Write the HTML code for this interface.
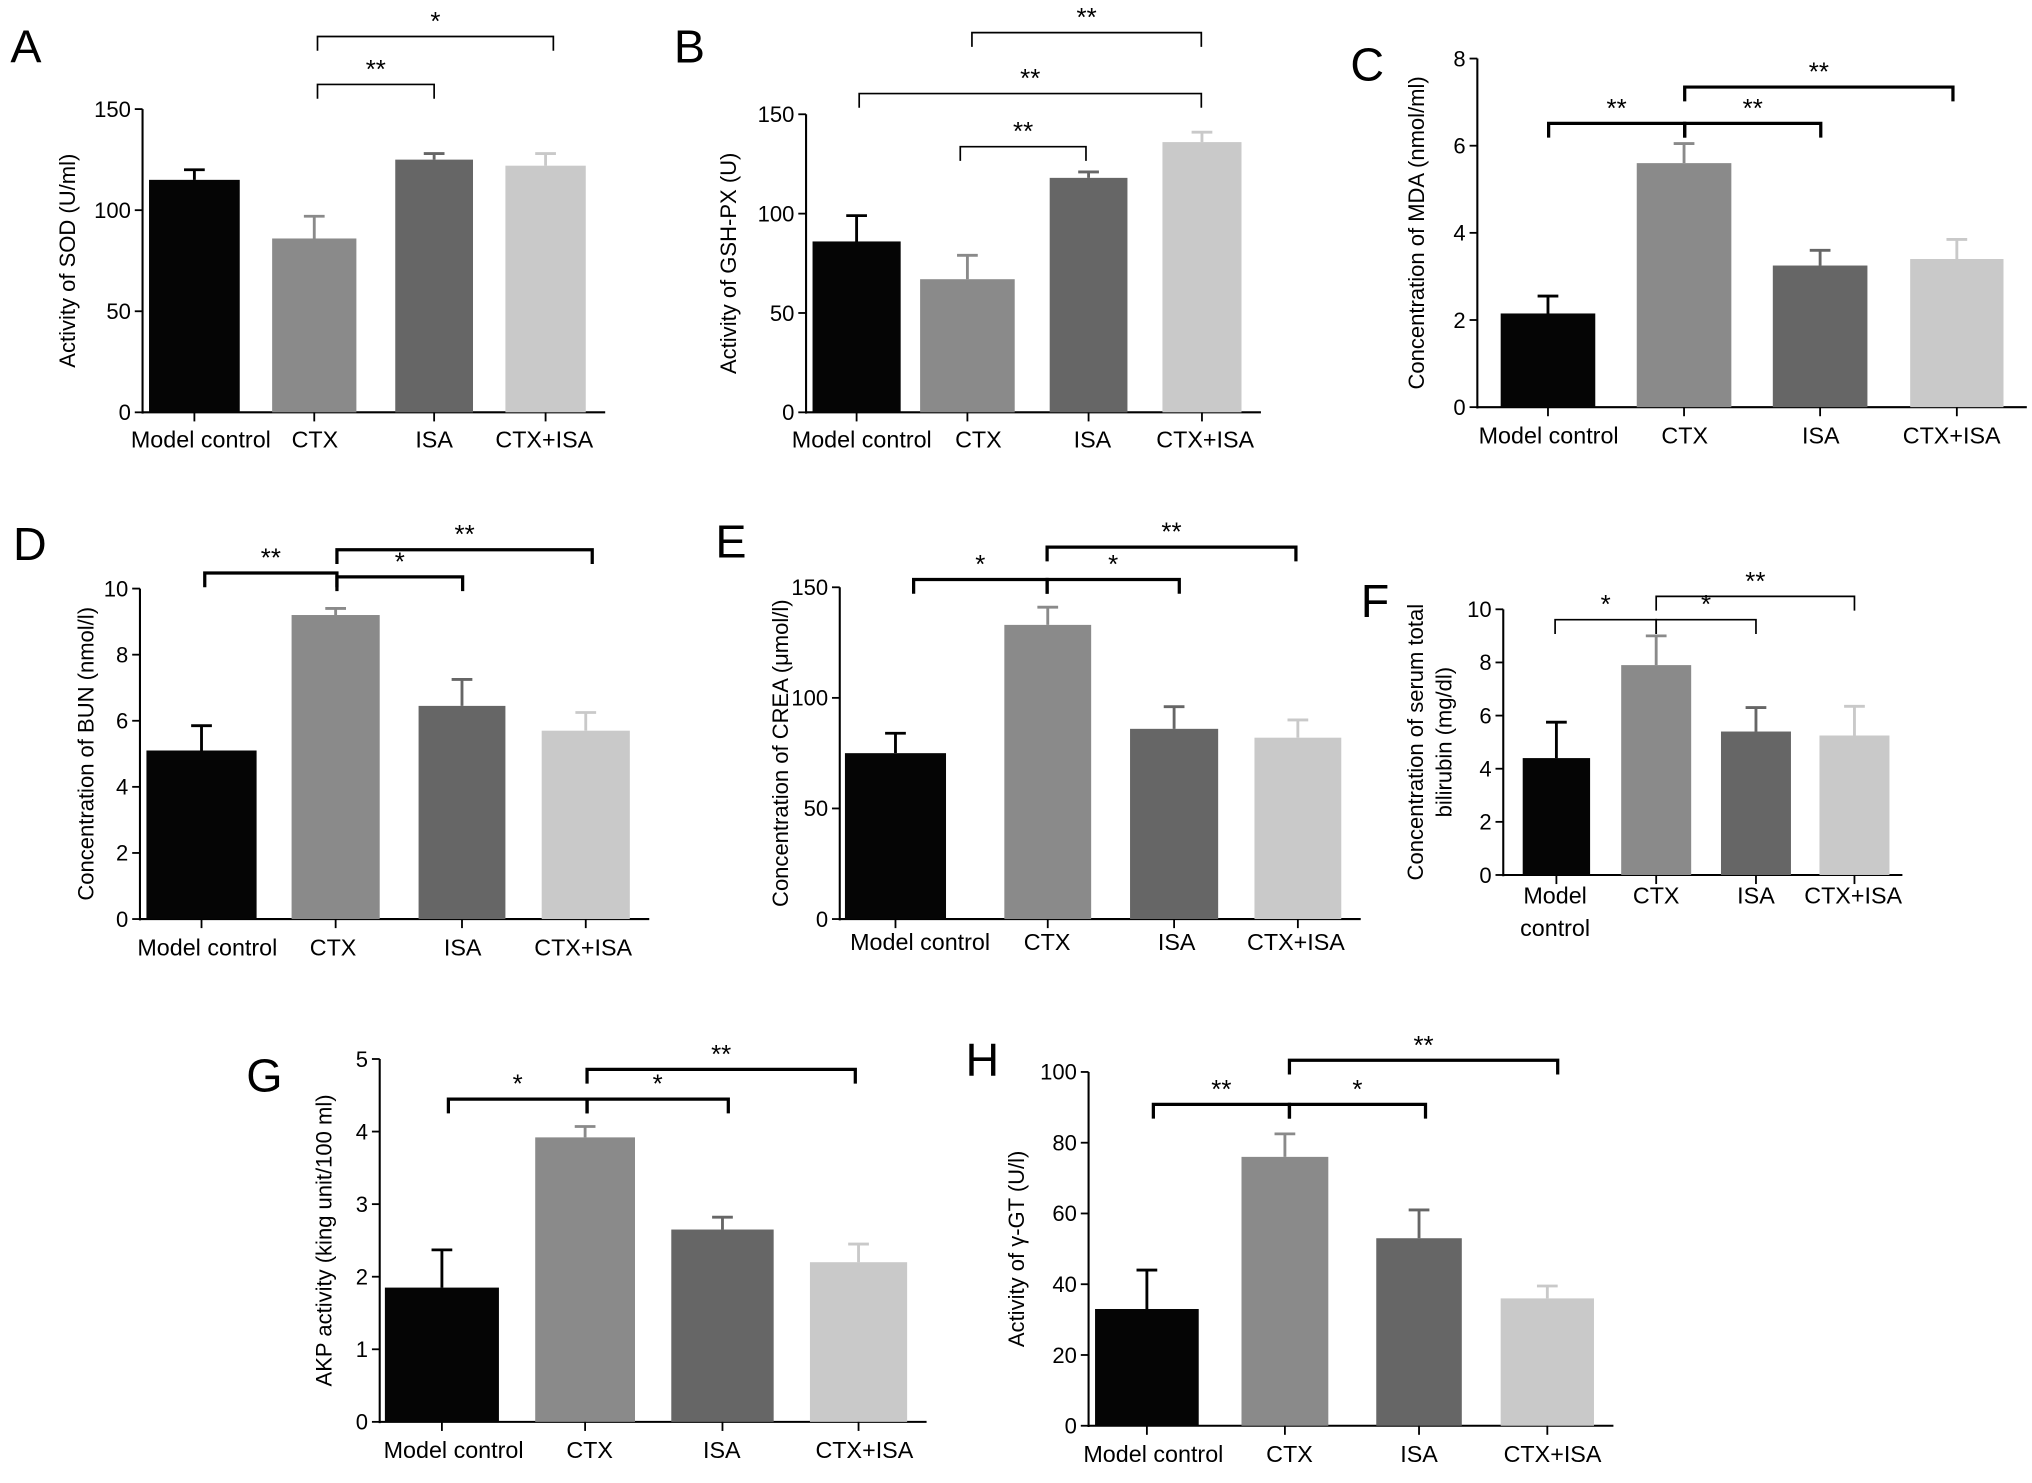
<!DOCTYPE html>
<html><head><meta charset="utf-8"><style>
html,body{margin:0;padding:0;background:#fff}
svg{display:block;font-family:"Liberation Sans",Arial,sans-serif}
</style></head><body>
<svg id="fig" width="2032" height="1483" viewBox="0 0 1568 1144" xmlns="http://www.w3.org/2000/svg"></svg>
<script>
const groups = ["Model control","CTX","ISA","CTX+ISA"];
const colors = ["#050505","#8a8a8a","#666666","#c9c9c9"];
const valsA=[115,86,125,122], errA=[5,11,3,6];
const valsB=[86,67,118,136], errB=[13,12,3,5];
const valsC=[2.15,5.6,3.25,3.4], errC=[0.4,0.45,0.35,0.45];
const valsD=[5.1,9.2,6.45,5.7], errD=[0.75,0.2,0.8,0.55];
const valsE=[75,133,86,82], errE=[9,8,10,8];
const valsF=[4.4,7.9,5.4,5.25], errF=[1.35,1.1,0.9,1.1];
const valsG=[1.85,3.92,2.65,2.2], errG=[0.52,0.15,0.17,0.25];
const valsH=[33,76,53,36], errH=[11,6.5,8,3.5];
const ticksA=[0,50,100,150], ticksC=[0,2,4,6,8], ticksD=[0,2,4,6,8,10], ticksG=[0,1,2,3,4,5], ticksH=[0,20,40,60,80,100];

const NS="http://www.w3.org/2000/svg", svg=document.getElementById('fig');
function el(tag,a,parent,txt){const e=document.createElementNS(NS,tag);for(const k in a)e.setAttribute(k,a[k]);if(txt!==undefined)e.textContent=txt;(parent||svg).appendChild(e);return e;}

const panels=[
 {id:'a',L:'A',lx:8,ly:48,ax:110,y0:318,y1:84,max:150,ticks:ticksA,vals:valsA,err:errA,bars:[[115,185],[210,275],[305,365],[390,452]],
  labs:[[155,345,'Model control'],[243,345,'CTX'],[335,345,'ISA'],[420,345,'CTX+ISA']],ylab:['Activity of SOD (U/ml)'],ylx:58,
  br:[[245,335,65,'**'],[245,427,28,'*']],bw:1.3},
 {id:'b',L:'B',lx:520,ly:48,ax:622,y0:318,y1:88,max:150,ticks:ticksA,vals:valsB,err:errB,bars:[[627,695],[710,783],[810,870],[897,958]],
  labs:[[665,345,'Model control'],[755,345,'CTX'],[843,345,'ISA'],[930,345,'CTX+ISA']],ylab:['Activity of GSH-PX (U)'],ylx:568,
  br:[[741,838,113,'**'],[663,927,72,'**'],[750,927,25,'**']],bw:1.3},
 {id:'c',L:'C',lx:1042,ly:62,ax:1140,y0:314,y1:45,max:8,ticks:ticksC,vals:valsC,err:errC,bars:[[1158,1231],[1263,1336],[1368,1441],[1474,1546]],
  labs:[[1195,342,'Model control'],[1300,342,'CTX'],[1405,342,'ISA'],[1506,342,'CTX+ISA']],ylab:['Concentration of MDA (nmol/ml)'],ylx:1099,
  br:[[1195,1300,95,'**'],[1300,1405,95,'**'],[1300,1507,67,'**']],bw:2.5,right:1564},
 {id:'d',L:'D',lx:10,ly:432,ax:108,y0:709,y1:454,max:10,ticks:ticksD,vals:valsD,err:errD,bars:[[113,198],[225,293],[323,390],[418,486]],
  labs:[[160,737,'Model control'],[257,737,'CTX'],[357,737,'ISA'],[450,737,'CTX+ISA']],ylab:['Concentration of BUN (nmol/l)'],ylx:72,
  br:[[158,260,442,'**'],[260,357,445,'*'],[260,457,424,'**']],bw:2.5},
 {id:'e',L:'E',lx:552,ly:430,ax:648,y0:709,y1:453,max:150,ticks:ticksA,vals:valsE,err:errE,bars:[[652,730],[775,842],[872,940],[968,1035]],
  labs:[[710,733,'Model control'],[808,733,'CTX'],[908,733,'ISA'],[1000,733,'CTX+ISA']],ylab:['Concentration of CREA (μmol/l)'],ylx:608,
  br:[[705,808,447,'*'],[808,910,447,'*'],[808,1000,422,'**']],bw:2.5},
 {id:'f',L:'F',lx:1050,ly:476,ax:1160,y0:675,y1:470,max:10,ticks:ticksD,vals:valsF,err:errF,bars:[[1175,1227],[1251,1305],[1328,1382],[1404,1458]],
  labs:[[1200,697,'Model'],[1200,722,'control'],[1278,697,'CTX'],[1355,697,'ISA'],[1430,697,'CTX+ISA']],ylab:['Concentration of serum total','bilirubin (mg/dl)'],ylx:1098,
  br:[[1200,1278,478,'*'],[1278,1355,478,'*'],[1278,1431,460,'**']],bw:1.3,right:1468},
 {id:'g',L:'G',lx:190,ly:842,ax:293,y0:1097,y1:817,max:5,ticks:ticksG,vals:valsG,err:errG,bars:[[297,385],[413,490],[518,597],[625,700]],
  labs:[[350,1125,'Model control'],[455,1125,'CTX'],[557,1125,'ISA'],[667,1125,'CTX+ISA']],ylab:['AKP activity (king unit/100 ml)'],ylx:256,
  br:[[346,453,848,'*'],[453,562,848,'*'],[453,660,825,'**']],bw:2.5},
 {id:'h',L:'H',lx:745,ly:830,ax:840,y0:1100,y1:827,max:100,ticks:ticksH,vals:valsH,err:errH,bars:[[845,925],[958,1025],[1062,1128],[1158,1230]],
  labs:[[890,1128,'Model control'],[995,1128,'CTX'],[1095,1128,'ISA'],[1198,1128,'CTX+ISA']],ylab:['Activity of γ-GT (U/l)'],ylx:790,
  br:[[890,995,852,'**'],[995,1100,852,'*'],[995,1202,818,'**']],bw:2.5}
];

panels.forEach(p=>{
  const g=el('g',{});
  
  
  const ys=v=>p.y0-(v/p.max)*(p.y0-p.y1);
  const lt=el('text',{x:p.lx,y:p.ly,'font-size':36},g,p.L);
  
  
  const right=p.right||(p.bars[3][1]+15);
  const xa=el('line',{x1:p.ax,y1:p.y0,x2:right,y2:p.y0,stroke:'#000','stroke-width':1.6},g);
  
  
  const ya=el('line',{x1:p.ax,y1:p.y0+1,x2:p.ax,y2:p.y1,stroke:'#000','stroke-width':1.6},g);
  
  
  p.ticks.forEach(t=>{
    const y=ys(t);
    el('line',{x1:p.ax-6,y1:y,x2:p.ax,y2:y,stroke:'#000','stroke-width':1.4},g);
    const tl=el('text',{x:p.ax-9,y:y+6,'font-size':17,'text-anchor':'end'},g,t);
    
    
  });
  p.vals.forEach((v,i)=>{
    const [x1,x2]=p.bars[i], top=ys(v), et=ys(v+p.err[i]), cx=(x1+x2)/2;
    const r=el('rect',{x:x1,y:top,width:x2-x1,height:p.y0-top,fill:colors[i]},g);
    
    
    el('line',{x1:cx,y1:p.y0,x2:cx,y2:p.y0+7,stroke:'#000','stroke-width':1.4},g);
    const eb=el('path',{d:`M${cx},${top} V${et} M${cx-8},${et} H${cx+8}`,stroke:colors[i]=='#050505'?'#000':colors[i],'stroke-width':2.2,fill:'none'},g);
    
    
  });
  p.labs.forEach(l=>{
    const t=el('text',{x:l[0],y:l[1],'font-size':18,'text-anchor':'middle'},g,l[2]);
    
    
  });
  const ymid=(p.y0+p.y1)/2;
  p.ylab.forEach((s,k)=>{
    const x=p.ylx+k*22;
    const t=el('text',{x:x,y:ymid,'font-size':17,'text-anchor':'middle',transform:`rotate(-90 ${x} ${ymid})`},g,s);
    
    
  });
  p.br.forEach(b=>{
    const [x1,x2,y,s]=b;
    const pa=el('path',{d:`M${x1},${y+11} V${y} H${x2} V${y+11}`,stroke:'#000','stroke-width':p.bw,fill:'none'},g);
    
    
    const st=el('text',{x:(x1+x2)/2,y:y-5,'font-size':20,'text-anchor':'middle'},g,s);
    
    
  });
});
</script>
</body></html>
